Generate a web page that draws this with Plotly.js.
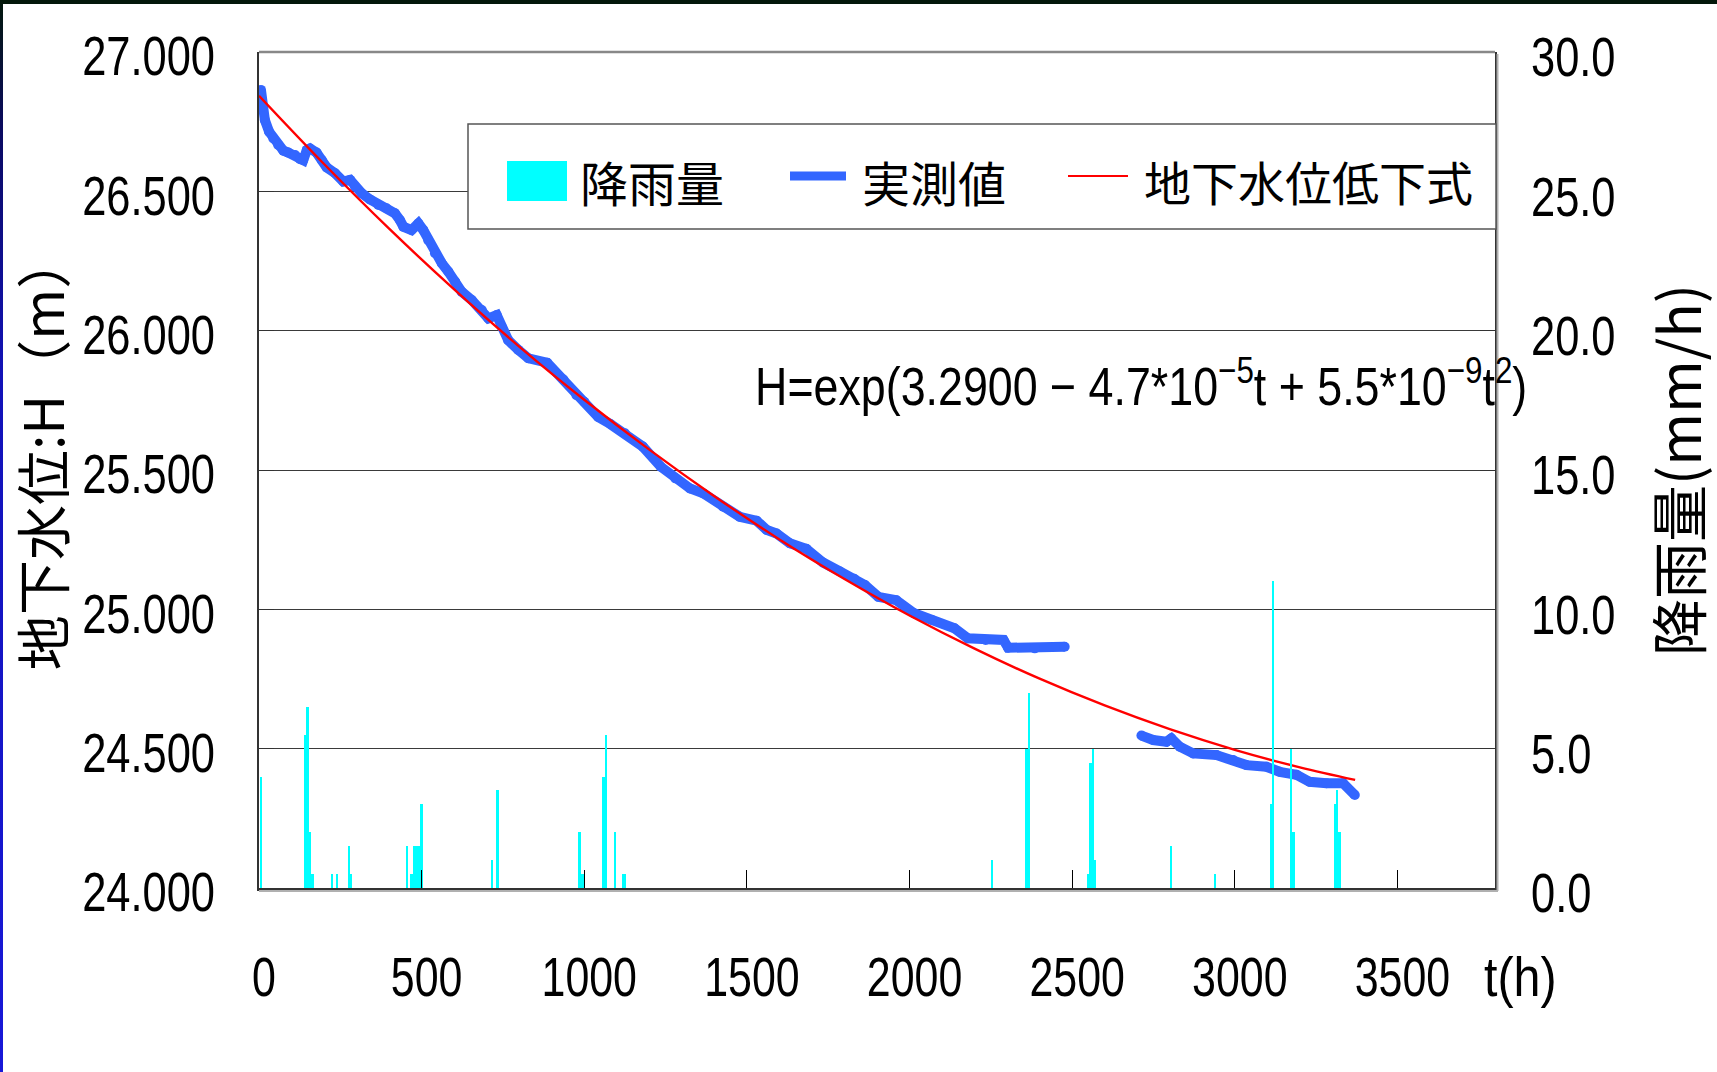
<!DOCTYPE html>
<html>
<head>
<meta charset="utf-8">
<script src="https://cdn.plot.ly/plotly-3.0.1.min.js"></script>
<style>
html,body{margin:0;padding:0;background:#ffffff;width:1717px;height:1072px;overflow:hidden;}
#chart{position:absolute;left:0;top:0;width:1717px;height:1072px;}
#topband{position:absolute;left:0;top:0;width:1717px;height:4px;background:#03180a;z-index:5;}
#leftband{position:absolute;left:0;top:0;width:3px;height:1072px;z-index:6;
 background:linear-gradient(to bottom,#03180a 0%,#0a0a60 12%,#1212b8 35%,#1818d8 100%);}
</style>
</head>
<body>
<div id="chart"></div>
<div id="topband"></div>
<div id="leftband"></div>
<script>
// ---- data ----
// rainfall (mm/h), right axis
const rainT = [6, 142, 149, 157, 165, 224, 240, 277, 283, 455, 469, 477, 484, 491, 500, 716, 733, 985, 992, 999, 1059, 1067, 1095, 1119, 1126, 2254, 2360, 2368, 2550, 2557, 2564, 2571, 2804, 2939, 3111, 3118, 3172, 3180, 3308, 3315, 3322];
const rainV = [4.0, 5.5, 6.5, 2.0, 0.5, 0.5, 0.5, 1.5, 0.5, 1.5, 0.5, 1.5, 1.5, 1.5, 3.0, 1.0, 3.5, 2.0, 0.5, 0.5, 4.0, 5.5, 2.0, 0.5, 0.5, 1.0, 5.0, 7.0, 0.5, 4.5, 5.0, 1.0, 1.5, 0.5, 3.0, 11.0, 5.0, 2.0, 3.0, 3.5, 2.0];

// measured groundwater level H (m), left axis (null = gap in record)
const measT = [6, 10, 18, 31, 44, 59, 75, 90, 111, 126, 136, 147, 157, 177, 193, 208, 234, 259, 280, 295, 316, 341, 367, 392, 418, 433, 444, 469, 490, 505, 520, 541, 562, 582, 603, 623, 654, 685, 705, 731, 746, 766, 797, 828, 886, 936, 976, 1000, 1043, 1080, 1125, 1180, 1235, 1280, 1325, 1366, 1427, 1478, 1530, 1561, 1591, 1632, 1683, 1734, 1786, 1830, 1863, 1904, 1959, 2014, 2069, 2138, 2179, 2234, 2289, 2303, 2385, 2477,
  null,
  2713, 2749, 2790, 2805, 2831, 2872, 2944, 2995, 3036, 3097, 3138, 3190, 3230, 3282, 3333, 3369];
const measH = [26.864, 26.804, 26.756, 26.714, 26.690, 26.666, 26.646, 26.639, 26.630, 26.615, 26.612, 26.648, 26.654, 26.639, 26.612, 26.586, 26.565, 26.535, 26.541, 26.517, 26.493, 26.471, 26.451, 26.439, 26.421, 26.397, 26.373, 26.361, 26.385, 26.361, 26.325, 26.278, 26.242, 26.212, 26.176, 26.140, 26.110, 26.074, 26.044, 26.056, 26.014, 25.966, 25.931, 25.901, 25.885, 25.825, 25.768, 25.745, 25.690, 25.665, 25.632, 25.584, 25.512, 25.470, 25.434, 25.416, 25.368, 25.332, 25.318, 25.285, 25.272, 25.237, 25.217, 25.168, 25.136, 25.110, 25.087, 25.045, 25.033, 24.986, 24.962, 24.932, 24.896, 24.890, 24.890, 24.862, 24.860, 24.866,
  null,
  24.547, 24.531, 24.525, 24.537, 24.507, 24.483, 24.477, 24.459, 24.441, 24.435, 24.417, 24.406, 24.381, 24.376, 24.376, 24.334];

// fitted decline curve H=exp(3.2900-4.7e-5 t+5.5e-9 t^2)
const fitT = [0, 200, 400, 600, 800, 1000, 1200, 1400, 1600, 1800, 2000, 2200, 2400, 2600, 2800, 3000, 3200, 3370];
const fitH = [26.843, 26.598, 26.366, 26.148, 25.943, 25.752, 25.573, 25.406, 25.251, 25.109, 24.978, 24.859, 24.751, 24.655, 24.570, 24.496, 24.433, 24.388];

const xTicks = [0, 500, 1000, 1500, 2000, 2500, 3000, 3500];
const seriesNames = ['降雨量', '実測値', '地下水位低下式'];
const leftTitle = '地下水位:H（m）';
const rightTitle = '降雨量(mm/h)';
const xUnit = 't(h)';
const equation = 'H=exp(3.2900 − 4.7*10<sup>−5</sup>t + 5.5*10<sup>−9</sup>t<sup>2</sup>)';

// ---- styling ----
const NUM = '"Liberation Sans", Arial, sans-serif';
const CJK = '"Noto Sans CJK JP", "Noto Sans CJK SC", sans-serif';
const RAIN = '#00FFFF', MEAS = '#3366FF', FIT = '#FF0000';

const traces = [
  {type: 'bar', name: seriesNames[0], x: rainT, y: rainV, yaxis: 'y2', width: 7.5,
   marker: {color: RAIN, line: {width: 0}}, showlegend: false},
  {type: 'scatter', mode: 'lines+markers', name: seriesNames[1], x: measT, y: measH,
   line: {color: MEAS, width: 10}, marker: {color: MEAS, size: 10}, connectgaps: false, showlegend: false},
  {type: 'scatter', mode: 'lines', name: seriesNames[2], x: fitT, y: fitH,
   line: {color: FIT, width: 2.4, shape: 'spline'}, showlegend: false}
];

// plot area: x 259..1495, y 52..888 (px)
const L = 259, R = 1495, T = 52, B = 888;
const px = v => (v - L) / (R - L);
const py = v => (B - v) / (B - T);

const shapes = [
  // frame: grey top line, soft shadows under the bottom axis and right of the right axis
  {type: 'line', xref: 'paper', yref: 'paper', x0: 0, x1: 1, y0: 1, y1: 1, line: {color: '#888888', width: 2.5}},
  {type: 'line', xref: 'paper', yref: 'paper', x0: px(L), x1: px(R + 3), y0: py(B + 3), y1: py(B + 3), line: {color: '#b0b0b0', width: 2}},
  {type: 'line', xref: 'paper', yref: 'paper', x0: px(R + 2.5), x1: px(R + 2.5), y0: py(B + 3), y1: py(T + 2), line: {color: '#b0b0b0', width: 2}},
  // legend box and symbols
  {type: 'rect', xref: 'paper', yref: 'paper', x0: px(468), x1: px(1496), y0: py(229), y1: py(124),
   line: {color: '#555555', width: 1.5}, fillcolor: '#ffffff'},
  {type: 'rect', xref: 'paper', yref: 'paper', x0: px(507), x1: px(567), y0: py(201), y1: py(161),
   line: {width: 0}, fillcolor: RAIN},
  {type: 'line', xref: 'paper', yref: 'paper', x0: px(790), x1: px(846), y0: py(176), y1: py(176),
   line: {color: MEAS, width: 9}},
  {type: 'line', xref: 'paper', yref: 'paper', x0: px(1068), x1: px(1128), y0: py(176), y1: py(176),
   line: {color: FIT, width: 2}}
];

const annotations = [
  {xref: 'paper', yref: 'paper', x: px(578), y: py(181), xanchor: 'left', yanchor: 'middle', showarrow: false,
   text: seriesNames[0], font: {family: CJK, size: 48, color: '#000'}},
  {xref: 'paper', yref: 'paper', x: px(860), y: py(181), xanchor: 'left', yanchor: 'middle', showarrow: false,
   text: seriesNames[1], font: {family: CJK, size: 48, color: '#000'}},
  {xref: 'paper', yref: 'paper', x: px(1142), y: py(181), xanchor: 'left', yanchor: 'middle', showarrow: false,
   text: seriesNames[2], font: {family: CJK, size: 47, color: '#000'}},
  {xref: 'paper', yref: 'paper', x: px(753), y: py(382), xanchor: 'left', yanchor: 'middle', showarrow: false,
   text: equation, font: {family: NUM, size: 53, color: '#000'}},
  {xref: 'paper', yref: 'paper', x: px(1482), y: py(977), xanchor: 'left', yanchor: 'middle', showarrow: false,
   text: xUnit, font: {family: NUM, size: 55, color: '#000'}}
];

const layout = {
  width: 1717, height: 1072, autosize: false,
  margin: {l: L, r: 1717 - R, t: T, b: 1072 - B, pad: 0},
  paper_bgcolor: '#ffffff', plot_bgcolor: '#ffffff',
  font: {family: NUM, color: '#000'},
  showlegend: false,
  bargap: 0,
  xaxis: {range: [0, 3800], tickvals: xTicks, ticktext: xTicks.map(String),
    ticks: 'inside', ticklen: 18, tickwidth: 1, tickcolor: '#000',
    showline: true, linecolor: '#333333', linewidth: 3, showgrid: false, zeroline: false,
    tickfont: {family: NUM, size: 55, color: '#000'}, ticklabelstandoff: 39, ticklabelshift: 5},
  yaxis: {range: [24, 27], dtick: 0.5, tick0: 24, tickformat: '.3f',
    ticks: 'inside', ticklen: 15, tickwidth: 1, tickcolor: '#333',
    showline: true, linecolor: '#333333', linewidth: 2,
    showgrid: true, gridcolor: '#3a3a3a', gridwidth: 1, zeroline: false,
    tickfont: {family: NUM, size: 55, color: '#000'}, ticklabelstandoff: 31, ticklabelshift: 4,
    title: {text: leftTitle, font: {family: CJK, size: 55, color: '#000'}, standoff: 0}},
  yaxis2: {overlaying: 'y', side: 'right', range: [0, 30], dtick: 5, tick0: 0, tickformat: '.1f',
    ticks: 'inside', ticklen: 15, tickwidth: 1, tickcolor: '#333',
    showline: true, linecolor: '#333333', linewidth: 2, showgrid: false, zeroline: false,
    tickfont: {family: NUM, size: 55, color: '#000'}, ticklabelstandoff: 23, ticklabelshift: 5,
    title: {text: rightTitle, font: {family: CJK, size: 57, color: '#000'}, standoff: 36}},
  shapes: shapes,
  annotations: annotations
};

// the reference uses a condensed Latin face; narrow the Latin texts horizontally around their anchor
function condense(el, s, pivot) {
  const bb = el.getBBox();
  const p = pivot === 'left' ? bb.x : pivot === 'right' ? bb.x + bb.width : bb.x + bb.width / 2;
  const prev = el.getAttribute('transform') || '';
  el.setAttribute('transform', prev + ' translate(' + p + ',0) scale(' + s + ',1) translate(' + (-p) + ',0)');
}

Plotly.newPlot('chart', traces, layout, {staticPlot: true, displayModeBar: false}).then(function (gd) {
  gd.querySelectorAll('.xtick text').forEach(t => condense(t, 0.78, 'center'));
  gd.querySelectorAll('.ytick text').forEach(t => condense(t, 0.79, 'right'));
  gd.querySelectorAll('.y2tick text').forEach(t => condense(t, 0.79, 'left'));
  const ann = gd.querySelectorAll('.annotation-text');
  if (ann[3]) condense(ann[3], 0.845, 'left');
  if (ann[4]) condense(ann[4], 0.88, 'left');
  // the reference's left title ink sits a little higher than the plot centre
  const yt = gd.querySelector('.g-ytitle');
  if (yt) yt.setAttribute('transform', (yt.getAttribute('transform') || '') + ' translate(0,-18)');
});
</script>
</body>
</html>
